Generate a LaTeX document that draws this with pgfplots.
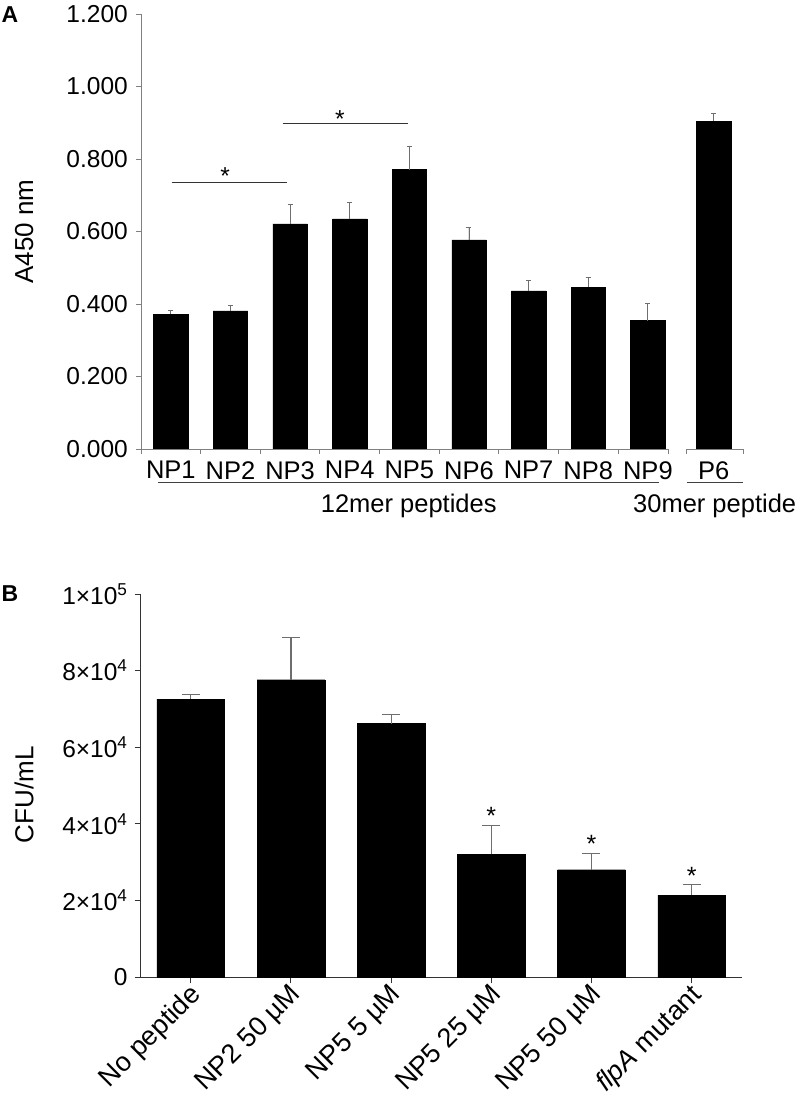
\documentclass[border=0pt]{standalone}
\usepackage{fontspec}
\setmainfont{Liberation Sans}
\usepackage{pgfplots}
\pgfplotsset{compat=1.18}
\usepackage{pgfplotstable}

\pgfplotstableread{
x y e
0 0.372 0.009
1 0.381 0.015
2 0.621 0.055
3 0.635 0.046
4 0.771 0.064
5 0.577 0.035
6 0.436 0.028
7 0.446 0.028
8 0.354 0.047
9.104 0.904 0.022
}\dataA

\pgfplotstableread{
x y e
0 72600 1240
1 77640 10960
2 66170 2450
3 32090 7470
4 28070 4180
5 21470 2790
}\dataB

\definecolor{axgray}{RGB}{128,128,128}
\definecolor{errgray}{RGB}{110,110,110}

\pgfplotsset{
  panel/.style={
    scale only axis, anchor=south west, axis lines*=left, tick align=outside,
    major tick length=5pt, clip=false,
    tick label style={font=\fontsize{24.5}{29}\selectfont},
    label style={font=\fontsize{26}{30}\selectfont},
    scaled y ticks=false,
  }
}

\begin{document}
\begin{tikzpicture}
\useasboundingbox (0,0) rectangle (799pt,-1098pt);
\node[anchor=north west, inner sep=0pt, font=\fontsize{23}{27}\selectfont\bfseries] at (1.5pt,-6.7pt) {A};
\node[anchor=north west, inner sep=0pt, font=\fontsize{23}{27}\selectfont\bfseries] at (1.5pt,-585pt) {B};

% ---------------- Panel A ----------------
\begin{axis}[panel,
  at={(141pt,-449pt)}, width=602.3pt, height=435pt,
  xmin=-0.5, xmax=9.6, ymin=0, ymax=1.2,
  x axis line style={draw=none},
  y axis line style={draw=axgray, line width=0.9pt},
  ytick={0,0.2,0.4,0.6,0.8,1.0,1.2},
  yticklabels={0.000,0.200,0.400,0.600,0.800,1.000,1.200},
  ytick style={draw=axgray, line width=0.9pt},
  yticklabel style={anchor=east, inner sep=0pt, xshift=-8pt},
  xtick={0,1,2,3,4,5,6,7,8,9.104},
  xticklabels={NP1,NP2,NP3,NP4,NP5,NP6,NP7,NP8,NP9,P6},
  xtick style={draw=none},
  xticklabel style={anchor=north, inner sep=0pt, yshift=-7pt, font=\fontsize{25.5}{30}\selectfont},
  extra x ticks={-0.5,0.5,1.5,2.5,3.5,4.5,5.5,6.5,7.5,8.338,8.651,9.6},
  extra x tick labels={},
  extra x tick style={xtick style={draw=axgray, line width=0.9pt}},
  ylabel={A450 nm},
  ylabel style={at={(axis description cs:-0.194,0.5)}, anchor=center},
]
\addplot[ybar, bar width=0.577, fill=black, draw=black,
  error bars/.cd, y dir=plus, y explicit,
  error bar style={draw=errgray, line width=0.9pt},
  error mark options={rotate=90, mark size=2.5pt, draw=errgray, line width=0.9pt}]
  table[x=x, y=y, y error=e] {\dataA};
% broken x axis
\draw[axgray, line width=0.9pt] (axis cs:-0.5,0) -- (axis cs:8.338,0);
\draw[axgray, line width=0.9pt] (axis cs:8.651,0) -- (axis cs:9.6,0);
% group lines
\draw[black!75, line width=0.9pt] (axis cs:-0.215,-0.093) -- (axis cs:8.187,-0.093);
\draw[black!75, line width=0.9pt] (axis cs:8.651,-0.093) -- (axis cs:9.6,-0.093);
\node[anchor=base, font=\fontsize{25.5}{30}\selectfont] at (axis cs:3.99,-0.176) {12mer peptides};
\node[anchor=base, font=\fontsize{25.5}{30}\selectfont] at (axis cs:9.12,-0.176) {30mer peptide};
% significance
\draw[black!80, line width=1pt] (axis cs:0.015,0.7346) -- (axis cs:1.943,0.7346);
\draw[black!80, line width=1pt] (axis cs:1.876,0.8966) -- (axis cs:3.983,0.8966);
\node[anchor=base, inner sep=0pt, font=\fontsize{24.5}{29}\selectfont] at (axis cs:0.909,0.729) {*};
\node[anchor=base, inner sep=0pt, font=\fontsize{24.5}{29}\selectfont] at (axis cs:2.837,0.886) {*};
\end{axis}

% ---------------- Panel B ----------------
\begin{axis}[panel,
  at={(140.7pt,-977.3pt)}, width=601pt, height=383.3pt,
  xmin=-0.5, xmax=5.5, ymin=0, ymax=100000,
  axis line style={draw=black!80, line width=1pt},
  major tick length=6pt,
  tick style={draw=black!80, line width=1pt},
  ytick={0,20000,40000,60000,80000,100000},
  yticklabels={0,2×10\textsuperscript{4},4×10\textsuperscript{4},6×10\textsuperscript{4},8×10\textsuperscript{4},1×10\textsuperscript{5}},
  yticklabel style={anchor=east, inner sep=0pt, xshift=-7pt},
  xtick={0,1,2,3,4,5},
  xticklabels={No peptide,NP2 50 µM,NP5 5 µM,NP5 25 µM,NP5 50 µM,\textit{flpA} mutant},
  xticklabel style={rotate=45, anchor=east, inner sep=0pt, yshift=-10pt, xshift=-1pt, font=\fontsize{27}{32}\selectfont},
  ylabel={CFU/mL},
  ylabel style={at={(axis description cs:-0.194,0.476)}, anchor=center},
]
\addplot[ybar, bar width=0.676, fill=black, draw=black,
  error bars/.cd, y dir=plus, y explicit,
  error bar style={draw=errgray, line width=1.2pt},
  error mark options={rotate=90, mark size=9pt, draw=errgray, line width=1.2pt}]
  table[x=x, y=y, y error=e] {\dataB};
\node[anchor=base, inner sep=0pt, font=\fontsize{25}{30}\selectfont] at (axis cs:3,39800) {*};
\node[anchor=base, inner sep=0pt, font=\fontsize{25}{30}\selectfont] at (axis cs:4,32500) {*};
\node[anchor=base, inner sep=0pt, font=\fontsize{25}{30}\selectfont] at (axis cs:5,24200) {*};
\end{axis}
\end{tikzpicture}
\end{document}
